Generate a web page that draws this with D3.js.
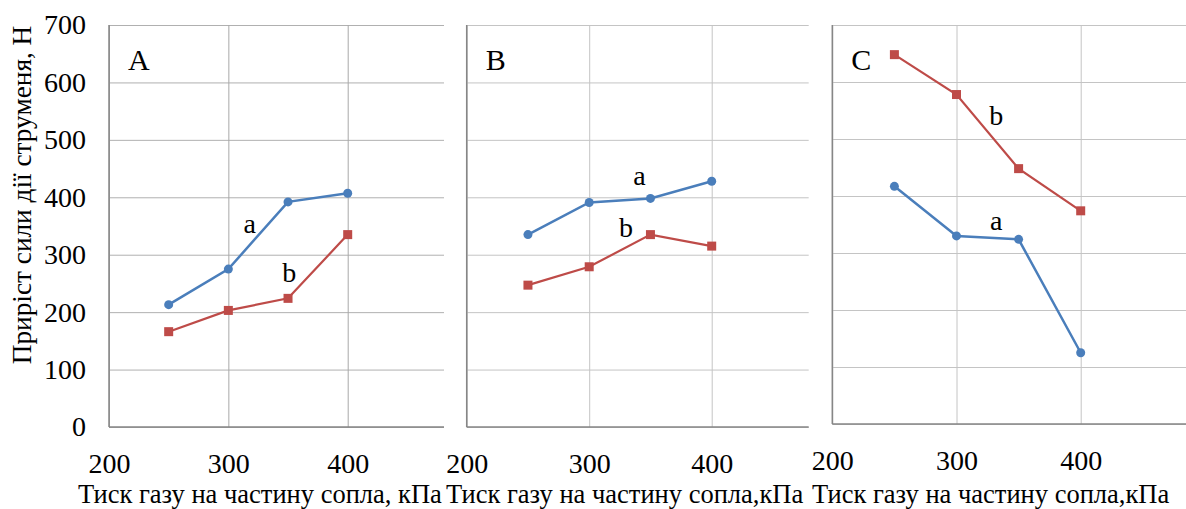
<!DOCTYPE html>
<html>
<head>
<meta charset="utf-8">
<script src="https://cdn.jsdelivr.net/npm/d3@7/dist/d3.min.js"></script>
<style>
  body { margin: 0; background: #fff; }
  svg { display: block; font-family: "Liberation Serif", "Times New Roman", serif; }
</style>
</head>
<body>
<svg width="1186" height="509"></svg>
<script>
// дані
const pressures = [250, 300, 350, 400];
const xTicks = [200, 300, 400];
const yTicks = [0, 100, 200, 300, 400, 500, 600, 700];

const aA = [213, 275, 392, 407];
const bA = [166, 203, 224, 335];
const aB = [335, 391, 398, 428];
const bB = [247, 279, 335, 315];
const aC = [417, 330, 324, 125];
const bC = [648, 578, 448, 374];

const yTitle = 'Приріст сили дії струменя, Н';

const svg = d3.select('svg');

const panels = [
  {name: 'A', a: aA, b: bA, x0: 109, x4: 347.7, right: 444, top: 25, bottom: 427,
   title: 'Тиск газу на частину сопла, кПа', titleX: 78,
   la: [318, 338], lb: [351, 253], yLabels: true},
  {name: 'B', a: aB, b: bB, x0: 466.7, x4: 711.7, right: 808.7, top: 25, bottom: 427,
   title: 'Тиск газу на частину сопла,кПа', titleX: 446,
   la: [341, 421], lb: [330, 330], yLabels: false},
  {name: 'C', a: aC, b: bC, x0: 832.3, x4: 1080.7, right: 1190, top: 25, bottom: 424,
   title: 'Тиск газу на частину сопла,кПа', titleX: 812,
   la: [332, 340], lb: [332, 525], yLabels: false}
];

const blue = '#4a7ebb';
const red = '#be4b48';

panels.forEach(p => {
  const xScale = d3.scaleLinear().domain([200, 400]).range([p.x0, p.x4]);
  const yScale = d3.scaleLinear().domain([0, 700]).range([p.bottom, p.top]);
  const w = p.right - p.x0;
  const h = p.bottom - p.top;

  const g = svg.append('g');

  // сітка по y
  const yGrid = g.append('g')
    .attr('transform', `translate(${p.x0},0)`)
    .call(d3.axisLeft(yScale).tickValues(yTicks).tickSize(-w).tickFormat(''));
  yGrid.select('.domain').remove();
  yGrid.selectAll('.tick line').attr('stroke', p.name === 'A' ? '#b0b0b0' : '#c4c4c4').attr('stroke-width', 1);

  // сітка по x
  const xGrid = g.append('g')
    .attr('transform', `translate(0,${p.bottom})`)
    .call(d3.axisBottom(xScale).tickValues(xTicks).tickSize(-h).tickFormat(''));
  xGrid.select('.domain').remove();
  xGrid.selectAll('.tick line').attr('stroke', p.name === 'A' ? '#a8a8a8' : '#c4c4c4').attr('stroke-width', 1);

  // осі
  g.append('line')
    .attr('x1', p.x0).attr('x2', p.x0).attr('y1', p.top).attr('y2', p.bottom)
    .attr('stroke', '#868686').attr('stroke-width', 1.5);
  g.append('line')
    .attr('x1', p.x0).attr('x2', p.right).attr('y1', p.bottom).attr('y2', p.bottom)
    .attr('stroke', '#868686').attr('stroke-width', 1.5);

  // підписи x
  const xAxisG = g.append('g')
    .attr('transform', `translate(0,${p.bottom})`)
    .call(d3.axisBottom(xScale).tickValues(xTicks).tickSize(0).tickPadding(26));
  xAxisG.select('.domain').remove();
  xAxisG.attr('font-family', null);
  xAxisG.selectAll('text')
    .attr('font-family', '"Liberation Serif", serif')
    .attr('font-size', 28).attr('fill', '#000');

  if (p.yLabels) {
    const yAxisG = g.append('g')
      .attr('transform', `translate(${p.x0},0)`)
      .call(d3.axisLeft(yScale).tickValues(yTicks).tickSize(0).tickPadding(23));
    yAxisG.select('.domain').remove();
    yAxisG.attr('font-family', null);
    yAxisG.selectAll('text')
      .attr('font-family', '"Liberation Serif", serif')
      .attr('font-size', 28).attr('fill', '#000');

    svg.append('text')
      .attr('transform', `translate(31,195) rotate(-90)`)
      .attr('text-anchor', 'middle')
      .attr('font-size', 27.3)
      .text(yTitle);
  }

  // назва осі x
  svg.append('text')
    .attr('x', p.titleX).attr('y', 503)
    .attr('font-size', 26.5)
    .text(p.title);

  // лінії
  const line = d3.line()
    .x((d, i) => xScale(pressures[i]))
    .y(d => yScale(d));

  g.append('path').datum(p.a)
    .attr('fill', 'none').attr('stroke', blue).attr('stroke-width', 2.5)
    .attr('d', line);
  g.append('path').datum(p.b)
    .attr('fill', 'none').attr('stroke', red).attr('stroke-width', 2.2)
    .attr('d', line);

  g.selectAll('circle').data(p.a)
    .enter().append('circle')
    .attr('cx', (d, i) => xScale(pressures[i]))
    .attr('cy', d => yScale(d))
    .attr('r', 4.5)
    .attr('fill', blue);

  g.selectAll('rect.m').data(p.b)
    .enter().append('rect')
    .attr('class', 'm')
    .attr('x', (d, i) => xScale(pressures[i]) - 4.5)
    .attr('y', d => yScale(d) - 4.5)
    .attr('width', 9).attr('height', 9)
    .attr('fill', red);

  // підписи
  g.append('text')
    .attr('x', p.x0 + 19).attr('y', 70)
    .attr('font-size', 30)
    .text(p.name);

  g.append('text')
    .attr('x', xScale(p.la[0])).attr('y', yScale(p.la[1]))
    .attr('text-anchor', 'middle').attr('font-size', 28)
    .text('a');
  g.append('text')
    .attr('x', xScale(p.lb[0])).attr('y', yScale(p.lb[1]))
    .attr('text-anchor', 'middle').attr('font-size', 28)
    .text('b');
});
</script>
</body>
</html>
